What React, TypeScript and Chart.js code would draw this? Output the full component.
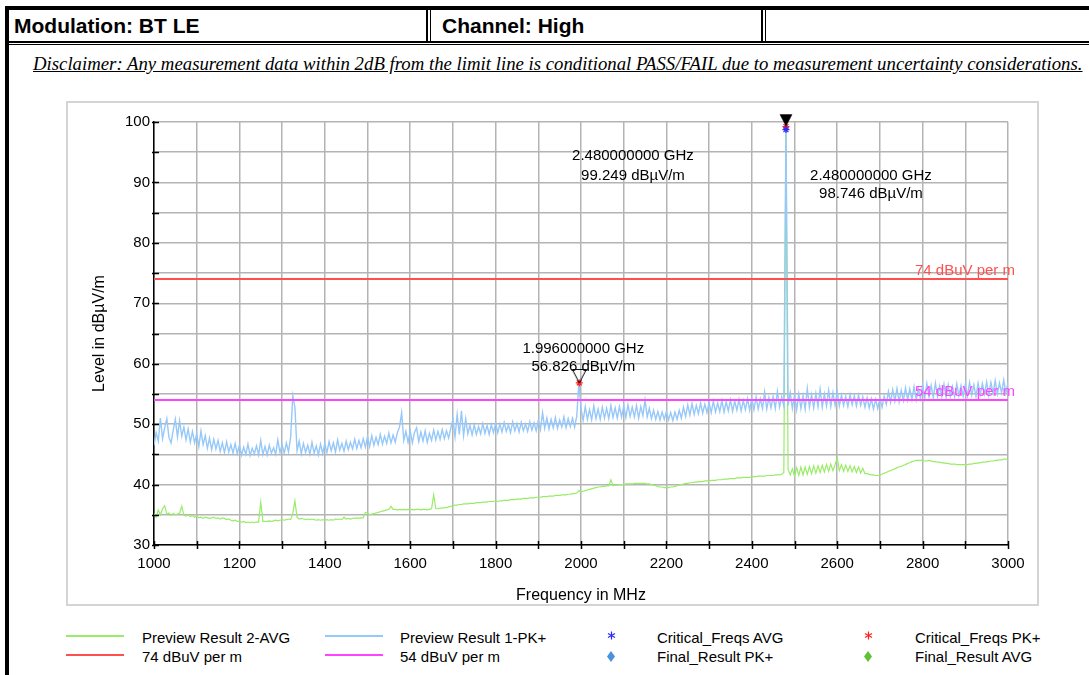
import React, { useEffect, useLayoutEffect, useRef } from 'react';
import { Chart, registerables } from 'chart.js';

Chart.register(...registerables);

// ---------- data ----------
const FREQ_START = 1000; // MHz, sweep start
const FREQ_STEP = 5; // MHz, sweep step

// Preview Result 1-PK+ (dBµV/m), 1000..3000 MHz every 5 MHz
const pkLevels = [
  46.5, 48.6, 47.2, 51.0, 47.6, 49.4, 50.9, 47.8, 46.9, 49.0, 50.8, 47.9, 50.6, 48.0, 49.5, 47.4, 49.2, 47.0, 48.8, 46.9,
  48.4, 46.3, 48.9, 46.6, 48.1, 46.0, 47.7, 45.8, 47.5, 45.9, 47.3, 45.5, 46.9, 45.3, 47.1, 45.4, 46.6, 45.2, 46.8, 45.1,
  46.5, 44.9, 46.2, 45.0, 46.7, 44.8, 46.0, 45.1, 46.4, 44.9, 47.3, 45.0, 46.3, 44.9, 46.5, 45.2, 46.1, 45.0, 47.4, 45.3,
  46.6, 45.2, 46.9, 45.4, 47.8, 54.7, 52.8, 45.6, 47.2, 45.1, 46.8, 45.3, 46.5, 45.0, 47.0, 45.2, 46.4, 44.9, 46.7, 45.1,
  46.8, 45.3, 47.1, 45.6, 46.9, 45.4, 47.4, 45.7, 46.8, 45.5, 47.2, 45.8, 47.0, 45.9, 47.5, 46.0, 47.3, 46.1, 47.6, 46.2,
  47.9, 46.3, 48.1, 46.5, 47.8, 46.6, 48.3, 46.7, 48.0, 46.8, 48.5, 46.9, 48.2, 47.0, 48.6, 49.5, 51.9, 47.3, 48.8, 47.0,
  48.9, 46.9, 48.6, 49.4, 47.1, 48.7, 47.2, 48.9, 47.0, 48.5, 47.3, 49.0, 47.4, 48.8, 47.5, 49.1, 47.6, 48.9, 47.7, 49.3,
  50.8, 47.9, 51.6, 48.3, 52.2, 48.1, 50.9, 48.4, 49.8, 48.2, 49.9, 48.3, 49.6, 48.4, 50.1, 48.5, 49.8, 48.3, 49.9, 48.6,
  50.2, 48.6, 50.0, 48.7, 50.3, 48.8, 49.9, 48.6, 50.4, 48.9, 50.1, 48.7, 50.3, 48.9, 50.0, 48.8, 50.4, 49.0, 50.2, 48.9,
  50.6, 49.1, 51.9, 49.3, 51.0, 49.2, 50.8, 49.4, 51.1, 49.3, 50.7, 49.5, 51.2, 49.4, 50.9, 49.6, 51.0, 49.5, 51.3, 56.8,
  52.6, 50.6, 52.9, 50.8, 52.4, 50.7, 53.0, 50.9, 52.5, 50.8, 52.8, 51.0, 52.6, 50.9, 53.1, 51.1, 52.7, 51.0, 52.9, 51.2,
  53.0, 51.1, 53.2, 51.3, 52.8, 51.2, 53.1, 51.0, 52.9, 51.4, 54.0, 51.2, 52.6, 50.9, 52.3, 50.8, 52.1, 50.7, 52.0, 50.8,
  52.1, 50.7, 51.9, 50.6, 52.0, 50.8, 52.3, 51.0, 52.8, 51.3, 53.2, 51.5, 53.4, 51.6, 53.1, 51.7, 53.5, 51.8, 53.3, 51.9,
  53.6, 51.9, 53.8, 52.0, 53.5, 52.1, 53.9, 52.0, 53.7, 52.2, 54.0, 52.1, 53.8, 52.3, 54.1, 52.2, 53.9, 52.4, 54.2, 52.3,
  54.3, 52.4, 54.5, 52.5, 54.2, 52.6, 55.3, 52.5, 54.4, 52.7, 54.6, 52.6, 55.4, 52.8, 54.5, 53.0, 99.25, 53.1, 55.2, 52.6,
  54.8, 52.4, 55.0, 52.6, 54.7, 52.5, 55.9, 52.8, 54.9, 52.7, 55.1, 52.9, 55.8, 52.8, 55.0, 53.0, 55.6, 52.9, 55.2, 53.1,
  55.4, 53.0, 54.8, 53.1, 54.6, 52.9, 54.9, 53.2, 54.7, 53.0, 54.8, 53.1, 54.5, 52.8, 54.4, 52.7, 54.2, 52.5, 54.1, 52.6,
  54.3, 52.8, 54.6, 53.3, 55.4, 53.6, 55.7, 53.8, 55.9, 53.7, 55.6, 53.9, 56.0, 54.0, 55.8, 54.1, 56.2, 54.0, 55.9, 54.2,
  56.5, 54.3, 56.7, 54.5, 56.4, 54.4, 56.8, 54.6, 56.3, 54.5, 56.6, 54.4, 56.5, 54.6, 56.2, 54.5, 56.7, 54.7, 56.4, 54.6,
  56.6, 54.7, 56.9, 54.8, 56.5, 54.6, 56.8, 54.9, 56.7, 55.0, 57.0, 54.8, 56.9, 55.1, 57.2, 55.0, 56.8, 55.2, 57.3, 55.1,
  56.9,
];

// Preview Result 2-AVG (dBµV/m), 1000..3000 MHz every 5 MHz
const avgLevels = [
  35.2, 34.6, 35.8, 35.0, 36.0, 36.5, 35.1, 35.3, 34.9, 35.2, 35.0, 35.1, 35.3, 36.4, 34.9, 34.8, 35.0, 34.7, 34.9, 34.6,
  34.8, 34.5, 34.6, 34.4, 34.6, 34.5, 34.4, 34.5, 34.6, 34.4, 34.5, 34.3, 34.5, 34.4, 34.2, 34.3, 34.1, 34.0, 34.1, 33.9,
  33.9, 33.8, 33.9, 33.7, 33.8, 33.7, 33.8, 33.7, 33.8, 33.8, 37.1, 33.9, 33.9, 33.9, 34.0, 33.9, 34.0, 34.1, 34.0, 34.1,
  34.2, 34.1, 34.2, 34.3, 34.2, 35.2, 37.3, 34.6, 34.3, 34.4, 34.3, 34.2, 34.3, 34.2, 34.3, 34.2, 34.1, 34.2, 34.1, 34.2,
  34.1, 34.2, 34.1, 34.2, 34.1, 34.3, 34.2, 34.3, 34.2, 34.6, 34.3, 34.4, 34.3, 34.4, 34.4, 34.5, 34.4, 34.5, 34.5, 35.4,
  35.3, 35.0, 35.1, 35.2, 35.3, 35.4, 35.5, 35.6, 35.7, 35.8, 35.9, 36.4, 35.9, 35.9, 35.8, 35.9, 35.8, 35.9, 35.8, 35.9,
  35.8, 35.9, 35.8, 35.9, 35.9, 35.8, 35.9, 35.9, 35.8, 35.9, 36.0, 38.3, 36.0, 36.0, 36.1, 36.1, 36.2, 36.2, 36.3, 36.4,
  36.5, 36.6, 36.6, 36.7, 36.7, 36.8, 36.8, 36.8, 36.9, 36.9, 36.9, 37.0, 37.0, 37.0, 37.1, 37.1, 37.1, 37.2, 37.2, 37.2,
  37.3, 37.2, 37.3, 37.3, 37.4, 37.4, 37.4, 37.5, 37.5, 37.5, 37.6, 37.6, 37.6, 37.7, 37.7, 37.7, 37.8, 37.8, 37.8, 37.9,
  37.9, 37.9, 38.0, 38.0, 38.0, 38.1, 38.1, 38.1, 38.2, 38.2, 38.2, 38.3, 38.3, 38.3, 38.4, 38.4, 38.5, 38.5, 38.6, 39.0,
  38.8, 38.9, 39.0, 39.1, 39.2, 39.3, 39.4, 39.5, 39.6, 39.6, 39.7, 39.7, 39.8, 39.8, 40.8, 39.8, 39.9, 39.9, 40.0, 40.0,
  40.0, 40.1, 40.1, 40.1, 40.1, 40.2, 40.2, 40.2, 40.2, 40.2, 40.2, 40.1, 40.1, 40.0, 39.9, 39.8, 39.7, 39.6, 39.6, 39.5,
  39.5, 39.5, 39.6, 39.6, 39.7, 39.8, 39.9, 40.0, 40.1, 40.2, 40.2, 40.3, 40.3, 40.4, 40.4, 40.5, 40.5, 40.5, 40.6, 40.6,
  40.6, 40.7, 40.7, 40.7, 40.8, 40.8, 40.8, 40.9, 40.9, 40.9, 41.0, 41.0, 41.0, 41.1, 41.1, 41.1, 41.2, 41.2, 41.2, 41.2,
  41.3, 41.3, 41.3, 41.4, 41.4, 41.4, 41.4, 41.5, 41.5, 41.5, 41.5, 41.6, 41.6, 41.6, 41.7, 42.0, 98.7, 42.5, 41.6, 42.6,
  41.4, 42.8, 41.5, 42.9, 41.6, 42.9, 41.7, 43.0, 41.8, 43.1, 41.9, 43.1, 42.0, 43.2, 42.1, 43.3, 42.2, 43.4, 42.3, 43.3,
  44.4, 42.3, 43.3, 42.2, 43.2, 42.2, 43.1, 42.1, 43.0, 42.0, 42.9, 41.9, 42.7, 41.8, 41.8, 41.7, 41.6, 41.6, 41.5, 41.5,
  41.6, 41.7, 41.9, 42.0, 42.2, 42.3, 42.5, 42.6, 42.8, 42.9, 43.0, 43.2, 43.3, 43.5, 43.6, 43.8, 43.9, 44.0, 44.0, 44.0,
  44.0, 43.9, 43.9, 44.0, 43.9, 43.8, 43.8, 43.7, 43.7, 43.6, 43.6, 43.5, 43.5, 43.4, 43.4, 43.4, 43.3, 43.3, 43.3, 43.3,
  43.3, 43.3, 43.4, 43.4, 43.5, 43.5, 43.6, 43.6, 43.7, 43.7, 43.8, 43.8, 43.9, 43.9, 44.0, 44.0, 44.1, 44.1, 44.2, 44.2,
  44.1,
];

const limitFreqs = [1000, 3000];
const limit74 = [74, 74];
const limit54 = [54, 54];

const critPkFreqs = [1996, 2480];
const critPkLevels = [56.826, 99.249];
const critAvgFreqs = [2480];
const critAvgLevels = [98.746];

const finalPkFreqs: number[] = [];
const finalPkLevels: number[] = [];
const finalAvgFreqs: number[] = [];
const finalAvgLevels: number[] = [];

// peak markers (triangle) and their readouts
const markerFreqs = [2480, 1996];
const markerLevels = [99.249, 56.826];
const readoutFreqs = [2480, 2480, 1996];
const readoutLevels = [99.249, 98.746, 56.826];

const xTickLabels = [1000, 1200, 1400, 1600, 1800, 2000, 2200, 2400, 2600, 2800, 3000];
const yTickLabels = [30, 40, 50, 60, 70, 80, 90, 100];

// ---------- styles ----------
const FONT = "'Liberation Sans', Arial, Helvetica, sans-serif";
const SERIF = "'Liberation Serif', 'Times New Roman', serif";
const C_AVG = '#98ec68';
const C_PK = '#96c8fa';
const C_RED = '#ff5050';
const C_MAG = '#ff44ff';
const C_STAR_AVG = '#2a2aff';
const C_STAR_PK = '#ff2020';
const C_DIA_PK = '#4a92dc';
const C_DIA_AVG = '#5ec232';

// readout text offsets relative to the marker pixel (dx, line1 dy, line2 dy)
const readoutLayout = [
  { dx: -153, dy1: 29.5, dy2: 49.5 },
  { dx: 85, dy1: 46.5, dy2: 64.5 },
  { dx: 4, dy1: -34, dy2: -16 },
];

function pts(xs: number[], ys: number[]) {
  return xs.map((x, i) => ({ x, y: ys[i] }));
}
function sweep(levels: number[]) {
  return levels.map((y, i) => ({ x: FREQ_START + i * FREQ_STEP, y }));
}

function makeTriangle(w: number, h: number, filled: boolean) {
  const c = document.createElement('canvas');
  c.width = w;
  c.height = h * 2;
  const ctx = c.getContext('2d')!;
  ctx.beginPath();
  ctx.moveTo(0.5, 0.5);
  ctx.lineTo(w - 0.5, 0.5);
  ctx.lineTo(w / 2, h);
  ctx.closePath();
  if (filled) {
    ctx.fillStyle = '#000';
    ctx.fill();
  } else {
    ctx.strokeStyle = '#000';
    ctx.lineWidth = 1;
    ctx.stroke();
  }
  return c;
}

const overlayPlugin = {
  id: 'overlay',
  afterDatasetsDraw(chart: any) {
    const { ctx, chartArea, scales } = chart;
    const x = scales.x;
    const y = scales.y;
    ctx.save();
    // tick marks crossing the axes
    ctx.strokeStyle = '#000';
    ctx.lineWidth = 1.5;
    ctx.beginPath();
    y.ticks.forEach((t: any) => {
      const py = Math.round(y.getPixelForValue(t.value)) + 0.5;
      ctx.moveTo(chartArea.left - 2, py);
      ctx.lineTo(chartArea.left + 5, py);
    });
    x.ticks.forEach((t: any) => {
      const px = Math.round(x.getPixelForValue(t.value)) + 0.5;
      ctx.moveTo(px, chartArea.bottom - 4);
      ctx.lineTo(px, chartArea.bottom + 4);
    });
    ctx.stroke();

    // limit line labels
    ctx.font = `15px ${FONT}`;
    ctx.textAlign = 'right';
    ctx.textBaseline = 'middle';
    ctx.fillStyle = C_RED;
    ctx.fillText('74 dBuV per m', chartArea.right + 7, y.getPixelForValue(limit74[1]) - 8);
    ctx.fillStyle = C_MAG;
    ctx.fillText('54 dBuV per m', chartArea.right + 7, y.getPixelForValue(limit54[1]) - 8);

    // marker readouts
    ctx.fillStyle = '#000';
    ctx.textAlign = 'center';
    readoutFreqs.forEach((f, i) => {
      const px = x.getPixelForValue(f);
      const py = y.getPixelForValue(readoutLevels[i]);
      const l = readoutLayout[i];
      ctx.fillText(`${(f / 1000).toFixed(9)} GHz`, px + l.dx, py + l.dy1);
      ctx.fillText(`${readoutLevels[i].toFixed(3)} dB\u00b5V/m`, px + l.dx, py + l.dy2);
    });
    ctx.restore();
  },
};

function ChartPanel() {
  const ref = useRef<HTMLCanvasElement | null>(null);
  useEffect(() => {
    const canvas = ref.current!;
    const triFilled = makeTriangle(14, 13, true);
    const triOpen = makeTriangle(15, 14, false);
    const chart = new Chart(canvas, {
      type: 'line',
      data: {
        datasets: [
          {
            label: 'Markers',
            data: pts(markerFreqs, markerLevels),
            showLine: false,
            pointStyle: [triFilled, triOpen] as any,
            pointRadius: 7,
            clip: false as any,
            order: 0,
          },
          {
            label: 'Critical_Freqs AVG',
            data: pts(critAvgFreqs, critAvgLevels),
            showLine: false,
            pointStyle: 'star',
            pointRadius: 3.5,
            borderColor: C_STAR_AVG,
            backgroundColor: C_STAR_AVG,
            pointBorderWidth: 1.2,
            order: 1,
          },
          {
            label: 'Critical_Freqs PK+',
            data: pts(critPkFreqs, critPkLevels),
            showLine: false,
            pointStyle: 'star',
            pointRadius: 3.5,
            borderColor: C_STAR_PK,
            backgroundColor: C_STAR_PK,
            pointBorderWidth: 1.2,
            order: 1,
          },
          {
            label: 'Final_Result PK+',
            data: pts(finalPkFreqs, finalPkLevels),
            showLine: false,
            pointStyle: 'rectRot',
            borderColor: C_DIA_PK,
            backgroundColor: C_DIA_PK,
            order: 1,
          },
          {
            label: 'Final_Result AVG',
            data: pts(finalAvgFreqs, finalAvgLevels),
            showLine: false,
            pointStyle: 'rectRot',
            borderColor: C_DIA_AVG,
            backgroundColor: C_DIA_AVG,
            order: 1,
          },
          {
            label: '74 dBuV per m',
            data: pts(limitFreqs, limit74),
            borderColor: C_RED,
            borderWidth: 2,
            pointRadius: 0,
            order: 2,
          },
          {
            label: '54 dBuV per m',
            data: pts(limitFreqs, limit54),
            borderColor: C_MAG,
            borderWidth: 2,
            pointRadius: 0,
            order: 2,
          },
          {
            label: 'Preview Result 1-PK+',
            data: sweep(pkLevels),
            borderColor: C_PK,
            borderWidth: 1.4,
            pointRadius: 0,
            order: 3,
          },
          {
            label: 'Preview Result 2-AVG',
            data: sweep(avgLevels),
            borderColor: C_AVG,
            borderWidth: 1.2,
            pointRadius: 0,
            order: 4,
          },
        ],
      },
      options: {
        responsive: false,
        animation: false,
        devicePixelRatio: 1,
        layout: { padding: { top: 19, right: 29, bottom: 0, left: 0 } },
        elements: { line: { tension: 0 } },
        plugins: {
          legend: { display: false },
          tooltip: { enabled: false },
        },
        scales: {
          x: {
            type: 'linear',
            min: 1000,
            max: 3000,
            afterFit: (s: any) => {
              s.height = 59;
            },
            border: { color: '#000', width: 1.5 },
            grid: { color: '#b4b4b4', lineWidth: 1.5, drawTicks: false },
            ticks: {
              stepSize: 100,
              autoSkip: false,
              maxRotation: 0,
              padding: 10,
              color: '#000',
              font: { family: FONT, size: 15 },
              callback: (v: any) => (xTickLabels.includes(Number(v)) ? String(v) : ''),
            },
            title: {
              display: true,
              text: 'Frequency in MHz',
              color: '#000',
              font: { family: FONT, size: 16, lineHeight: 1 },
              padding: { top: 0, bottom: 0 },
            },
          },
          y: {
            type: 'linear',
            min: 30,
            max: 100,
            afterFit: (s: any) => {
              s.width = 86;
            },
            border: { color: '#000', width: 1.5 },
            grid: { color: '#b4b4b4', lineWidth: 1.5, drawTicks: false },
            ticks: {
              stepSize: 5,
              autoSkip: false,
              padding: 4,
              color: '#000',
              font: { family: FONT, size: 15 },
              callback: (v: any) => (yTickLabels.includes(Number(v)) ? String(v) : ''),
            },
            title: {
              display: true,
              text: 'Level in dB\u00b5V/m',
              color: '#000',
              font: { family: FONT, size: 16, lineHeight: 1 },
              padding: { top: 24, bottom: 0 },
            },
          },
        },
      },
      plugins: [overlayPlugin],
    } as any);
    return () => chart.destroy();
  }, []);
  return (
    <canvas
      ref={ref}
      width={969}
      height={501}
      style={{ position: 'absolute', left: 68, top: 103, width: 969, height: 501 }}
    />
  );
}

type LegendItem = { label: string; kind: 'line' | 'star' | 'diamond'; color: string; col: number; row: number };
const legendItems: LegendItem[] = [
  { label: 'Preview Result 2-AVG', kind: 'line', color: C_AVG, col: 0, row: 0 },
  { label: 'Preview Result 1-PK+', kind: 'line', color: C_PK, col: 1, row: 0 },
  { label: 'Critical_Freqs AVG', kind: 'star', color: C_STAR_AVG, col: 2, row: 0 },
  { label: 'Critical_Freqs PK+', kind: 'star', color: C_STAR_PK, col: 3, row: 0 },
  { label: '74 dBuV per m', kind: 'line', color: C_RED, col: 0, row: 1 },
  { label: '54 dBuV per m', kind: 'line', color: C_MAG, col: 1, row: 1 },
  { label: 'Final_Result PK+', kind: 'diamond', color: C_DIA_PK, col: 2, row: 1 },
  { label: 'Final_Result AVG', kind: 'diamond', color: C_DIA_AVG, col: 3, row: 1 },
];
const legendColText = [142, 400, 657, 915];
const legendColSym = [66, 325, 611, 868];
const legendRowY = [638, 657];

function LegendSymbol({ item }: { item: LegendItem }) {
  const cy = legendRowY[item.row];
  const sx = legendColSym[item.col];
  if (item.kind === 'line') {
    return (
      <div
        style={{
          position: 'absolute',
          left: sx,
          top: cy - 3,
          width: 58,
          height: 2,
          background: item.color,
        }}
      />
    );
  }
  if (item.kind === 'star') {
    return (
      <svg style={{ position: 'absolute', left: sx - 4, top: cy - 7 }} width={9} height={9} viewBox="0 0 9 9">
        <g stroke={item.color} strokeWidth={1.2}>
          <line x1={4.5} y1={0.5} x2={4.5} y2={8.5} />
          <line x1={1} y1={2.5} x2={8} y2={6.5} />
          <line x1={1} y1={6.5} x2={8} y2={2.5} />
        </g>
      </svg>
    );
  }
  return (
    <svg style={{ position: 'absolute', left: sx - 4, top: cy - 6 }} width={8} height={11} viewBox="0 0 8 11">
      <polygon points="4,0 8,5.5 4,11 0,5.5" fill={item.color} />
    </svg>
  );
}

const DISCLAIMER =
  'Disclaimer: Any measurement data within 2dB from the limit line is conditional PASS/FAIL due to measurement uncertainty considerations.';

function Disclaimer() {
  const ref = useRef<HTMLDivElement | null>(null);
  useLayoutEffect(() => {
    const el = ref.current;
    if (!el) return;
    const w = el.scrollWidth;
    if (w > 0) el.style.transform = `scaleX(${1050 / w})`;
  }, []);
  return (
    <div
      ref={ref}
      style={{
        position: 'absolute',
        left: 33,
        top: 54,
        font: `italic 19px ${SERIF}`,
        lineHeight: '19px',
        whiteSpace: 'nowrap',
        textDecoration: 'underline',
        color: '#000',
        transformOrigin: '0 0',
        display: 'inline-block',
      }}
    >
      {DISCLAIMER}
    </div>
  );
}

export default function App() {
  const abs = (s: React.CSSProperties): React.CSSProperties => ({ position: 'absolute', ...s });
  return (
    <div style={abs({ left: 0, top: 0, width: 1089, height: 675, background: '#fff', overflow: 'hidden' })}>
      {/* frame */}
      <div style={abs({ left: 5, top: 6, width: 1084, height: 4, background: '#000' })} />
      <div style={abs({ left: 5, top: 6, width: 4, height: 669, background: '#000' })} />
      <div style={abs({ left: 9, top: 41, width: 1080, height: 2, background: '#000' })} />
      <div style={abs({ left: 9, top: 44, width: 1080, height: 1, background: '#000' })} />
      <div style={abs({ left: 426, top: 10, width: 2, height: 31, background: '#000' })} />
      <div style={abs({ left: 430, top: 10, width: 1, height: 31, background: '#000' })} />
      <div style={abs({ left: 761, top: 10, width: 2, height: 31, background: '#000' })} />
      <div style={abs({ left: 765, top: 10, width: 1, height: 31, background: '#000' })} />
      <div
        style={abs({
          left: 14,
          top: 15,
          font: `bold 21px ${FONT}`,
          lineHeight: '21px',
          whiteSpace: 'nowrap',
          color: '#000',
        })}
      >
        Modulation: BT LE
      </div>
      <div
        style={abs({
          left: 442,
          top: 15,
          font: `bold 21px ${FONT}`,
          lineHeight: '21px',
          whiteSpace: 'nowrap',
          color: '#000',
        })}
      >
        Channel: High
      </div>
      <Disclaimer />

      {/* chart panel */}
      <div
        style={abs({
          left: 66,
          top: 101,
          width: 973,
          height: 505,
          border: '2px solid #d4d4d4',
          boxSizing: 'border-box',
        })}
      />
      <ChartPanel />

      {/* legend */}
      {legendItems.map((it) => (
        <React.Fragment key={it.label}>
          <LegendSymbol item={it} />
          <div
            style={abs({
              left: legendColText[it.col],
              top: legendRowY[it.row] - 9,
              font: `15px ${FONT}`,
              lineHeight: '18px',
              whiteSpace: 'nowrap',
              color: '#000',
            })}
          >
            {it.label}
          </div>
        </React.Fragment>
      ))}
    </div>
  );
}
